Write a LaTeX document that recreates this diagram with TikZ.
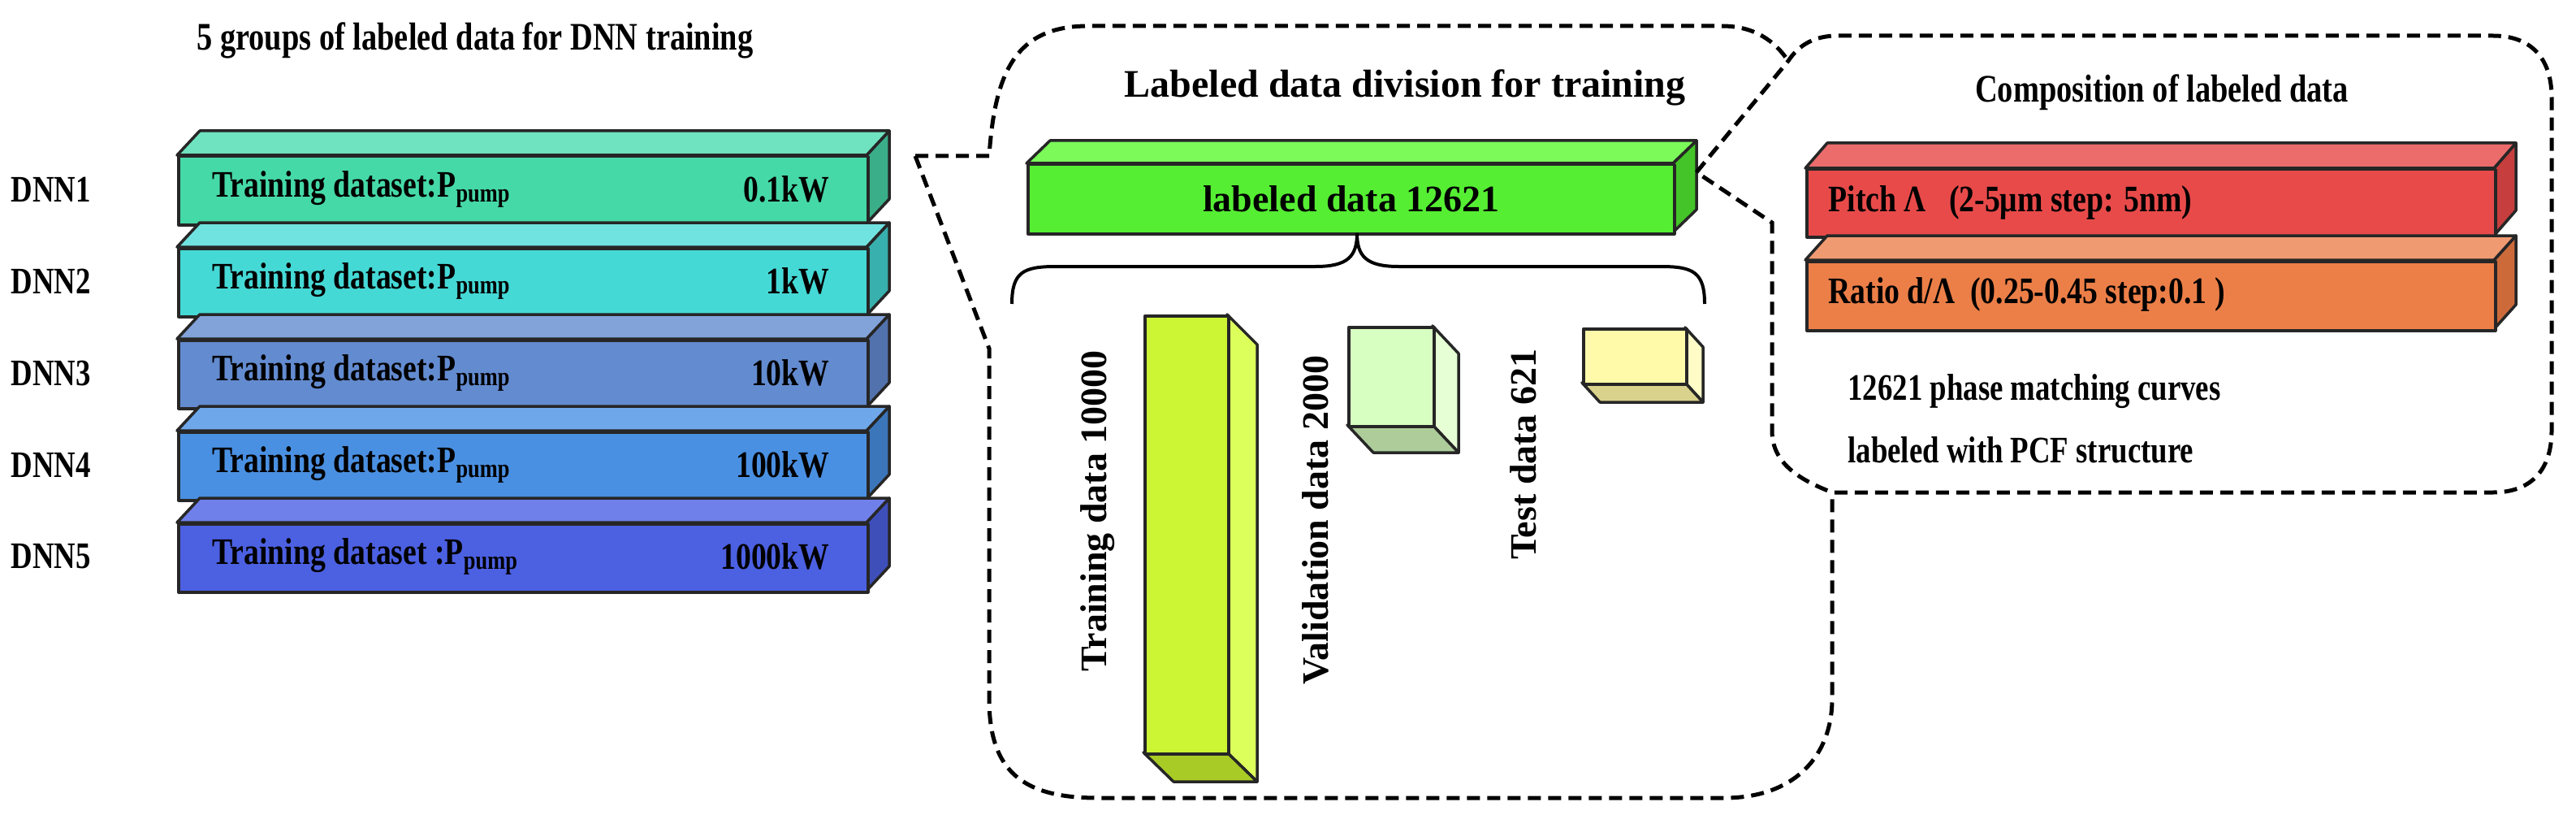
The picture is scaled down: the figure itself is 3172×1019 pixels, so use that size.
\documentclass[tikz,border=0pt]{standalone}
\usepackage{fontspec}
\setmainfont{Liberation Serif}
\definecolor{c1}{HTML}{45D9A8}\definecolor{c1t}{HTML}{6FE3C0}\definecolor{c1s}{HTML}{3AAE88}
\definecolor{c2}{HTML}{45D9D6}\definecolor{c2t}{HTML}{70E3E0}\definecolor{c2s}{HTML}{38B0AE}
\definecolor{c3}{HTML}{638BD0}\definecolor{c3t}{HTML}{82A3DA}\definecolor{c3s}{HTML}{5272AE}
\definecolor{c4}{HTML}{4A90E2}\definecolor{c4t}{HTML}{6FA8EA}\definecolor{c4s}{HTML}{3C76BA}
\definecolor{c5}{HTML}{4C60E2}\definecolor{c5t}{HTML}{6F80EA}\definecolor{c5s}{HTML}{3E4FBA}
\definecolor{gF}{HTML}{55EE33}\definecolor{gT}{HTML}{7BFA5A}\definecolor{gS}{HTML}{44C428}
\definecolor{trF}{HTML}{CCF533}\definecolor{trS}{HTML}{DDFF5C}\definecolor{trB}{HTML}{A8CC25}
\definecolor{vaF}{HTML}{D8FFC2}\definecolor{vaS}{HTML}{E6FFD4}\definecolor{vaB}{HTML}{ADCC9A}
\definecolor{teF}{HTML}{FFFAAA}\definecolor{teS}{HTML}{FFFCC8}\definecolor{teB}{HTML}{D9D28C}
\definecolor{rF}{HTML}{E84A4A}\definecolor{rT}{HTML}{EC6C6C}\definecolor{rS}{HTML}{C63E3E}
\definecolor{oF}{HTML}{EC7F48}\definecolor{oT}{HTML}{F09A72}\definecolor{oS}{HTML}{CC6A3A}
\begin{document}
\tikzset{barline/.style={line width=3.5pt,draw=black!85,line join=round},
  dashln/.style={line width=5pt,dash pattern=on 16pt off 9pt},
  ttl/.style={font=\bfseries\fontsize{48}{56}\selectfont},
  lbl/.style={font=\bfseries\fontsize{46}{54}\selectfont}}
\begin{tikzpicture}[x=1pt,y=-1pt]
\useasboundingbox (0,0) rectangle (3172,1019);
% ---------- left panel ----------
\node[ttl] (ltitle) at (585,50) {\scalebox{0.8}[1]{5 groups of labeled data for DNN training}};
\def\onebar#1#2#3#4#5#6#7#8{%
 \begin{scope}
 \filldraw[barline,fill=#6] (1067,#1) -- ++(28,-30) -- ++(0,84) -- (1067,#1+84) -- cycle;
 \filldraw[barline,fill=#5] (218,#1) -- ++(28,-30) -- (1095,#1-30) -- (1067,#1) -- cycle;
 \node[barline,draw,fill=#4,anchor=north west,minimum width=849pt,minimum height=84pt,inner sep=0pt] (bar#2) at (218,#1) {};
 \node[lbl,anchor=west] (bt#2) at (258,#1+42) {\scalebox{0.82}[1]{#7}};
 \node[lbl,anchor=east] (bv#2) at (1025,#1+42) {\scalebox{0.82}[1]{#8}};
 \node[lbl,anchor=west] (dnn#2) at (10,#1+42) {\scalebox{0.8}[1]{DNN#2}};
 \end{scope}}
\onebar{191}{1}{}{c1}{c1t}{c1s}{Training dataset:P\textsubscript{pump}}{0.1kW}
\onebar{304}{2}{}{c2}{c2t}{c2s}{Training dataset:P\textsubscript{pump}}{1kW}
\onebar{417}{3}{}{c3}{c3t}{c3s}{Training dataset:P\textsubscript{pump}}{10kW}
\onebar{530}{4}{}{c4}{c4t}{c4s}{Training dataset:P\textsubscript{pump}}{100kW}
\onebar{643}{5}{}{c5}{c5t}{c5s}{Training dataset :P\textsubscript{pump}}{1000kW}
% ---------- middle panel ----------
\coordinate (tipL) at (1127,192);
\draw[dashln] (tipL) -- (1218,192) .. controls (1225,90) and (1250,32) .. (1340,32) -- (2120,32)
   .. controls (2160,32) and (2185,50) .. (2202,75);
\draw[dashln] (tipL) -- (1218,429) -- (1218,860) .. controls (1218,950) and (1260,982) .. (1352,982)
   -- (2123,982) .. controls (2210,982) and (2256,930) .. (2256,860) -- (2256,606);
\node[ttl] (mtitle) at (1730,108) {Labeled data division for training};
% labeled data bar
\filldraw[barline,fill=gS] (2060,201) -- ++(29,-28) -- ++(0,85) -- (2060,286) -- cycle;
\filldraw[barline,fill=gT] (1264,201) -- ++(29,-28) -- (2089,173) -- (2060,201) -- cycle;
\node[barline,draw,fill=gF,anchor=north west,minimum width=796pt,minimum height=85pt,inner sep=0pt] (ldbar) at (1264,201) {};
\node[lbl] (ldtext) at (ldbar.center) {labeled data 12621};
% brace
\draw[line width=4pt] (1246,374) .. controls (1246,335) and (1260,328) .. (1300,328) -- (1620,328)
  .. controls (1660,328) and (1671,315) .. (1671,287)
  .. controls (1671,315) and (1682,328) .. (1722,328) -- (2045,328)
  .. controls (2085,328) and (2099,335) .. (2099,374);
% training
\filldraw[barline,fill=trS] (1511,387) -- ++(37,37) -- (1548,962) -- (1511,926) -- cycle;
\filldraw[barline,fill=trB] (1408,926) -- ++(37,36) -- (1548,962) -- (1511,926) -- cycle;
\node[barline,draw,fill=trF,anchor=north west,minimum width=103pt,minimum height=539pt,inner sep=0pt] (trbar) at (1408,387) {};
\node[lbl,rotate=90] (trtext) at (1352,629) {Training data 10000};
% validation
\filldraw[barline,fill=vaS] (1764,401) -- ++(32,34) -- (1796,557) -- (1764,523) -- cycle;
\filldraw[barline,fill=vaB] (1659,523) -- ++(32,34) -- (1796,557) -- (1764,523) -- cycle;
\node[barline,draw,fill=vaF,anchor=north west,minimum width=105pt,minimum height=122pt,inner sep=0pt] (vabar) at (1659,401) {};
\node[lbl,rotate=90] (vatext) at (1620,640) {Validation data 2000};
% test
\filldraw[barline,fill=teS] (2075,403) -- ++(22,24) -- (2097,495) -- (2075,471) -- cycle;
\filldraw[barline,fill=teB] (1948,471) -- ++(22,24) -- (2097,495) -- (2075,471) -- cycle;
\node[barline,draw,fill=teF,anchor=north west,minimum width=127pt,minimum height=68pt,inner sep=0pt] (tebar) at (1948,403) {};
\node[lbl,rotate=90] (tetext) at (1876,559) {Test data 621};
% ---------- right panel ----------
\coordinate (tipR) at (2089,212);
\draw[dashln] (tipR) -- (2202,75) .. controls (2215,55) and (2235,44) .. (2262,44) -- (3070,44)
  .. controls (3115,44) and (3142,70) .. (3142,120) -- (3142,530)
  .. controls (3142,580) and (3115,606) .. (3070,606) -- (2256,606)
  .. controls (2215,590) and (2182,570) .. (2182,530) -- (2182,274) -- (tipR);
\node[ttl] (rtitle) at (2662,114) {\scalebox{0.8}[1]{Composition of labeled data}};
\filldraw[barline,fill=rS] (3071,207) -- ++(27,-31) -- ++(0,83) -- (3071,290) -- cycle;
\filldraw[barline,fill=rT] (2223,207) -- ++(27,-31) -- (3098,176) -- (3071,207) -- cycle;
\node[barline,draw,fill=rF,anchor=north west,minimum width=848pt,minimum height=83pt,inner sep=0pt] (pbar) at (2223,207) {};
\node[lbl,anchor=west] (ptext) at (2248,249) {\scalebox{0.82}[1]{Pitch Λ \ \ (2-5μm step: 5nm)}};
\filldraw[barline,fill=oS] (3071,320) -- ++(27,-30) -- ++(0,85) -- (3071,405) -- cycle;
\filldraw[barline,fill=oT] (2223,320) -- ++(27,-30) -- (3098,290) -- (3071,320) -- cycle;
\node[barline,draw,fill=oF,anchor=north west,minimum width=848pt,minimum height=85pt,inner sep=0pt] (obar) at (2223,320) {};
\node[lbl,anchor=west] (otext) at (2248,362) {\scalebox{0.82}[1]{Ratio d/Λ \ (0.25-0.45 step:0.1 )}};
\node[lbl,anchor=west] (n1) at (2272,482) {\scalebox{0.8}[1]{12621 phase matching curves}};
\node[lbl,anchor=west] (n2) at (2272,554) {\scalebox{0.8}[1]{labeled with PCF structure}};
\end{tikzpicture}
\end{document}
